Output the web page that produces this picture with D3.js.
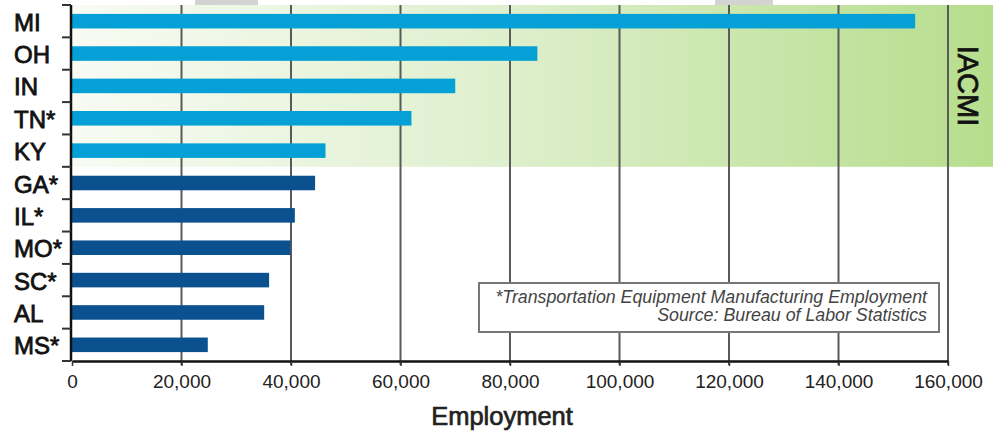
<!DOCTYPE html>
<html>
<head>
<meta charset="utf-8">
<script src="https://cdn.jsdelivr.net/npm/d3@7"></script>
<style>
  body { margin: 0; background: #fff; }
  svg { display: block; font-family: "Liberation Sans", Arial, sans-serif; }
</style>
</head>
<body>
<svg width="1000" height="434"></svg>
<script>
// data
const states = ["MI", "OH", "IN", "TN*", "KY", "GA*", "IL*", "MO*", "SC*", "AL", "MS*"];
const employment = [154000, 85000, 70000, 62000, 46300, 44400, 40700, 39900, 36000, 35100, 24800];
const iacmiStates = ["MI", "OH", "IN", "TN*", "KY"];
const xTicks = [0, 20000, 40000, 60000, 80000, 100000, 120000, 140000, 160000];

const data = states.map((s, i) => ({state: s, value: employment[i]}));

const svg = d3.select("svg");
const plotLeft = 72, plotRight = 948, plotTop = 5, plotBottom = 361;

const x = d3.scaleLinear().domain([0, 160000]).range([plotLeft, plotRight]);
const y = d3.scaleBand().domain(states).range([plotTop, plotBottom])
    .paddingInner(0.55).paddingOuter(0.275);
const step = y.step();

// gradient for the IACMI band
const grad = svg.append("defs").append("linearGradient")
    .attr("id", "green").attr("x1", "0%").attr("x2", "100%");
grad.append("stop").attr("offset", "0%").attr("stop-color", "#f8fbf3");
grad.append("stop").attr("offset", "45%").attr("stop-color", "#dff0cf");
grad.append("stop").attr("offset", "100%").attr("stop-color", "#b6dd8c");

// grey tabs at the very top (cropped from the original page)
svg.append("rect").attr("x", 195).attr("y", 0).attr("width", 63).attr("height", 5).attr("fill", "#d3d3d3");
svg.append("rect").attr("x", 715).attr("y", 0).attr("width", 58).attr("height", 5).attr("fill", "#d3d3d3");

const bandBottom = plotTop + iacmiStates.length * step;
svg.append("rect")
    .attr("x", plotLeft).attr("y", plotTop)
    .attr("width", 993 - plotLeft).attr("height", bandBottom - plotTop)
    .attr("fill", "url(#green)");

svg.append("text")
    .attr("transform", `translate(968,${(plotTop + bandBottom) / 2}) rotate(90)`)
    .attr("text-anchor", "middle")
    .attr("dominant-baseline", "central")
    .style("font-size", "29px")
    .style("fill", "#111").style("stroke", "#111").style("stroke-width", 0.8)
    .text("IACMI");

// vertical grid lines
svg.append("g").selectAll("line")
    .data(xTicks.slice(1))
    .enter().append("line")
    .attr("x1", d => x(d)).attr("x2", d => x(d))
    .attr("y1", plotTop).attr("y2", plotBottom + 4)
    .attr("stroke", "#5a5a5a").attr("stroke-width", 2);

// bars
svg.append("g").selectAll("rect")
    .data(data)
    .enter().append("rect")
    .attr("x", x(0))
    .attr("y", d => y(d.state))
    .attr("width", d => x(d.value) - x(0))
    .attr("height", y.bandwidth())
    .attr("fill", d => iacmiStates.includes(d.state) ? "#05a0d6" : "#0b5190");

// note box
const note = svg.append("g");
note.append("rect")
    .attr("x", 479).attr("y", 283).attr("width", 460).attr("height", 49)
    .attr("fill", "#fff").attr("stroke", "#777").attr("stroke-width", 2);
note.append("text")
    .attr("x", 927).attr("y", 303)
    .attr("text-anchor", "end")
    .style("font-size", "17.8px").style("font-style", "italic").style("fill", "#444")
    .text("*Transportation Equipment Manufacturing Employment");
note.append("text")
    .attr("x", 927).attr("y", 321)
    .attr("text-anchor", "end")
    .style("font-size", "17.8px").style("font-style", "italic").style("fill", "#444")
    .text("Source: Bureau of Labor Statistics");

// x axis
const xAxis = svg.append("g")
    .attr("transform", `translate(0,${plotBottom})`)
    .call(d3.axisBottom(x).tickValues(xTicks).tickSize(5).tickSizeOuter(0).tickFormat(d3.format(",")));
xAxis.select(".domain").attr("stroke", "#111").attr("stroke-width", 2.5);
xAxis.selectAll(".tick line").attr("stroke", "#333").attr("stroke-width", 1.5);
xAxis.selectAll(".tick text")
    .attr("y", 14).attr("dy", "0.71em")
    .style("font-size", "19px").style("fill", "#222")
    .style("font-family", "'Liberation Sans', Arial, sans-serif");

svg.append("text")
    .attr("x", 502).attr("y", 425)
    .attr("text-anchor", "middle")
    .style("font-size", "25.5px").style("fill", "#222")
    .style("stroke", "#222").style("stroke-width", 0.7)
    .text("Employment");

// y axis: line with ticks at band edges
svg.append("line")
    .attr("x1", 71).attr("x2", 71).attr("y1", plotTop).attr("y2", plotBottom)
    .attr("stroke", "#111").attr("stroke-width", 2.5);
svg.append("g").selectAll("line")
    .data(d3.range(states.length + 1))
    .enter().append("line")
    .attr("x1", 62).attr("x2", 71)
    .attr("y1", i => plotTop + i * step).attr("y2", i => plotTop + i * step)
    .attr("stroke", "#333").attr("stroke-width", 2);

svg.append("g").selectAll("text")
    .data(states)
    .enter().append("text")
    .attr("x", 14)
    .attr("y", d => y(d) + y.bandwidth() / 2 + 1)
    .attr("dominant-baseline", "central")
    .style("font-size", "24px").style("fill", "#111")
    .style("stroke", "#111").style("stroke-width", 0.8)
    .text(d => d);
</script>
</body>
</html>
